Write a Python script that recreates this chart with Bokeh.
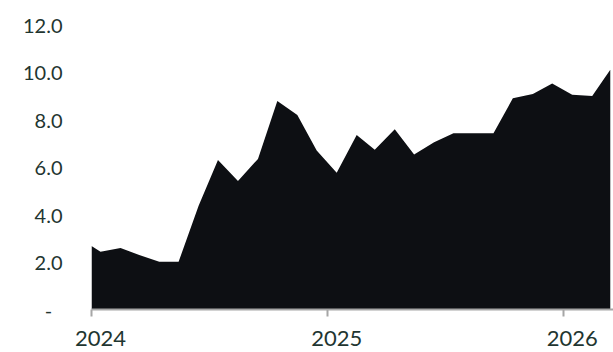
from datetime import datetime
from bokeh.plotting import figure
from bokeh.models import (DatetimeAxis, FixedTicker, Range1d, CustomJSTickFormatter,
                          ColumnDataSource)
from bokeh.embed import file_html
from bokeh.resources import INLINE

# ---- data ----
dates = ["2024-01-01", "2024-01-15", "2024-02-15", "2024-03-15", "2024-04-15", "2024-05-15",
         "2024-06-15", "2024-07-15", "2024-08-15", "2024-09-15", "2024-10-15",
         "2024-11-15", "2024-12-15", "2025-01-15", "2025-02-15", "2025-03-15",
         "2025-04-15", "2025-05-15", "2025-06-15", "2025-07-15", "2025-08-15",
         "2025-09-15", "2025-10-15", "2025-11-15", "2025-12-15", "2026-01-15",
         "2026-02-15", "2026-03-15"]
values = [2.67, 2.43, 2.59, 2.30, 2.01, 2.01, 4.37, 6.29, 5.41, 6.34, 8.78, 8.19,
          6.69, 5.76, 7.35, 6.73, 7.59, 6.53, 7.04, 7.42, 7.42, 7.42, 8.89, 9.07,
          9.52, 9.04, 8.99, 10.10]
year_labels = ["2024", "2025", "2026"]
year_starts = ["2024-01-01", "2025-01-01", "2026-01-01"]
label_dates = ["2024-01-15", "2025-01-15", "2026-01-15"]
y_ticks = [0, 2, 4, 6, 8, 10, 12]
x_start, x_end = "2024-01-01", "2026-03-20"

def ms(s):
    return datetime.strptime(s, "%Y-%m-%d").timestamp() * 1000.0

TEXT = "#1f3631"
AXIS = "#a6a6a6"
FONT = "Lato"

src = ColumnDataSource(dict(x=[ms(d) for d in dates], y=values, y0=[0] * len(values)))

p = figure(frame_width=522, frame_height=285, output_backend="svg", toolbar_location=None,
           x_range=Range1d(ms(x_start), ms(x_end)), y_range=Range1d(0, 12),
           x_axis_location=None, y_axis_location="left",
           min_border_left=91, min_border_right=0, min_border_top=24,
           min_border_bottom=43)
p.outline_line_color = None
p.grid.visible = False
p.background_fill_color = "white"
p.border_fill_color = "white"

p.varea(x="x", y1="y0", y2="y", source=src, fill_color="#0d0f13")

# y axis
ya = p.yaxis[0]
ya.ticker = FixedTicker(ticks=y_ticks)
ya.formatter = CustomJSTickFormatter(code="return tick == 0 ? '-\\u00a0\\u00a0' : tick.toFixed(1);")
ya.axis_line_color = None
ya.major_tick_line_color = None
ya.minor_tick_line_color = None
ya.major_tick_out = 0
ya.major_tick_in = 0
ya.major_label_standoff = 29
ya.major_label_text_font = FONT
ya.major_label_text_font_size = "20px"
ya.major_label_text_color = TEXT

# x axis: year labels under the January points, tick marks at year starts
xa = DatetimeAxis(ticker=FixedTicker(ticks=[ms(d) for d in label_dates],
                                     minor_ticks=[ms(d) for d in year_starts]))
xa.major_label_overrides = {ms(d): lab for d, lab in zip(label_dates, year_labels)}
xa.axis_line_color = AXIS
xa.axis_line_width = 2
xa.major_tick_line_color = None
xa.major_tick_out = 0
xa.major_tick_in = 0
xa.minor_tick_line_color = AXIS
xa.minor_tick_line_width = 2
xa.minor_tick_out = 7
xa.minor_tick_in = 0
xa.major_label_standoff = 14
xa.major_label_text_font = FONT
xa.major_label_text_font_size = "22px"
xa.major_label_text_color = TEXT
p.add_layout(xa, "below")

open("out.html", "w").write(file_html(p, INLINE))
